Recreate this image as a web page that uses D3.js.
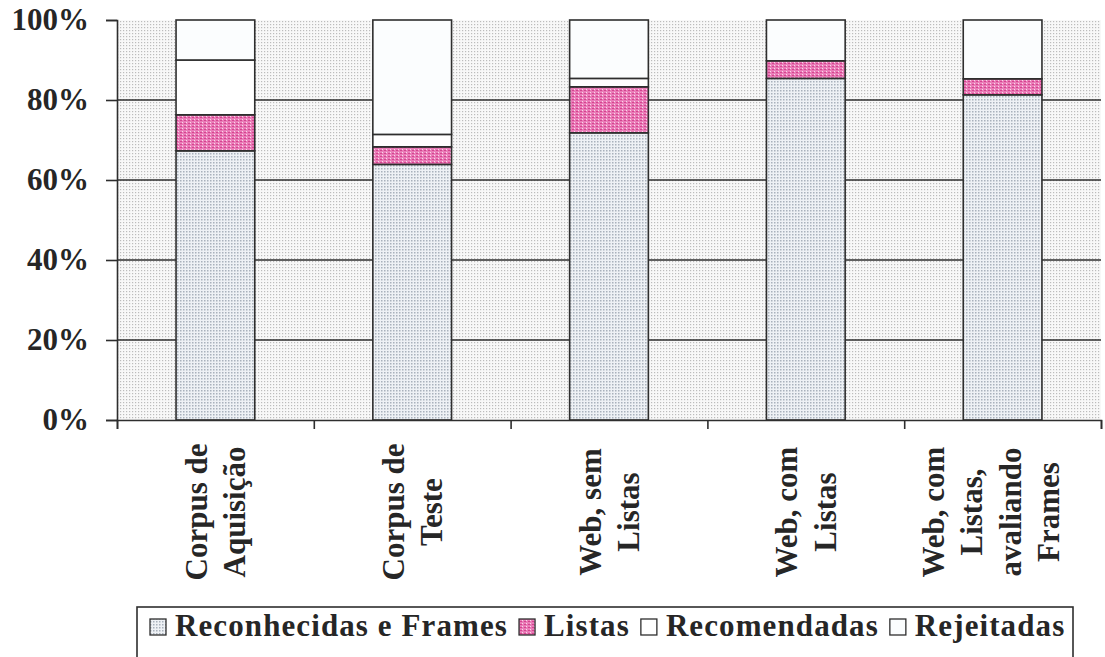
<!DOCTYPE html>
<html>
<head>
<meta charset="utf-8">
<script src="https://cdn.jsdelivr.net/npm/d3@7"></script>
<style>
  html, body { margin: 0; padding: 0; background: #fff; }
  svg { display: block; }
  text { font-family: "Liberation Serif", "Times New Roman", serif; font-weight: bold; fill: #262626; }
</style>
</head>
<body>
<svg id="chart" width="1105" height="657"></svg>
<script>
// Category labels (one line per array entry)
const categories = [
  ["Corpus de", "Aquisição"],
  ["Corpus de", "Teste"],
  ["Web, sem", "Listas"],
  ["Web, com", "Listas"],
  ["Web, com", "Listas,", "avaliando", "Frames"]
];
// Stacked shares, percent of each column
const reconhecidas = [67.3, 63.9, 71.8, 85.4, 81.3];
const listas       = [9.0, 4.4, 11.5, 4.4, 4.0];
const recomendadas = [13.7, 3.1, 2.1, 0.0, 0.0];
const rejeitadas   = [10.0, 28.6, 14.6, 10.2, 14.7];
const seriesNames  = ["Reconhecidas e Frames", "Listas", "Recomendadas", "Rejeitadas"];
const yTicks = [0, 20, 40, 60, 80, 100];

const seriesValues = [reconhecidas, listas, recomendadas, rejeitadas];
const keys = categories.map(c => c.join(" "));
const rows = keys.map((k, i) => {
  const r = { key: k };
  seriesNames.forEach((s, j) => r[s] = seriesValues[j][i]);
  return r;
});
const stacked = d3.stack().keys(seriesNames)(rows);

const svg = d3.select("#chart");
const ink = "#2e2e2e";

// Fill patterns
const defs = svg.append("defs");
const bgPat = defs.append("pattern").attr("id", "pBg")
  .attr("width", 3).attr("height", 3).attr("patternUnits", "userSpaceOnUse");
bgPat.append("rect").attr("width", 3).attr("height", 3).attr("fill", "#f8f8f8");
bgPat.append("rect").attr("width", 1.2).attr("height", 1.2).attr("fill", "#bcbcbc");

const recPat = defs.append("pattern").attr("id", "pRec")
  .attr("width", 3).attr("height", 3).attr("patternUnits", "userSpaceOnUse");
recPat.append("rect").attr("width", 3).attr("height", 3).attr("fill", "#eef1f5");
recPat.append("rect").attr("width", 1.5).attr("height", 1.5).attr("fill", "#a9b1bc");

const lisPat = defs.append("pattern").attr("id", "pLis")
  .attr("width", 4).attr("height", 3).attr("patternUnits", "userSpaceOnUse");
lisPat.append("rect").attr("width", 4).attr("height", 3).attr("fill", "#ea7cb8");
lisPat.append("rect").attr("x", 0).attr("y", 0).attr("width", 2).attr("height", 1).attr("fill", "#d4448e");
lisPat.append("rect").attr("x", 2).attr("y", 2).attr("width", 1).attr("height", 1).attr("fill", "#f7dbe9");

const fills = {
  "Reconhecidas e Frames": "url(#pRec)",
  "Listas": "url(#pLis)",
  "Recomendadas": "#ffffff",
  "Rejeitadas": "#fbfdfe"
};

// Scales
const plotL = 117, plotR = 1101, plotT = 20, plotB = 420;
const x = d3.scaleBand().domain(keys).range([plotL, plotR]).paddingInner(0.6).paddingOuter(0.3);
const y = d3.scaleLinear().domain([0, 100]).range([plotB, plotT]);
const xEdges = d3.scaleLinear().domain([0, keys.length]).range([plotL, plotR]);

// Plot background
svg.append("rect").attr("x", plotL).attr("y", plotT)
  .attr("width", plotR - plotL).attr("height", plotB - plotT)
  .attr("fill", "url(#pBg)");

// Horizontal gridlines
svg.append("g").selectAll("line")
  .data(yTicks.filter(t => t > 0 && t < 100))
  .join("line")
  .attr("x1", plotL).attr("x2", plotR)
  .attr("y1", d => y(d)).attr("y2", d => y(d))
  .attr("stroke", ink).attr("stroke-width", 1.6);

// Stacked bars
svg.append("g").selectAll("g")
  .data(stacked)
  .join("g")
  .attr("fill", d => fills[d.key])
  .selectAll("rect")
  .data(d => d)
  .join("rect")
  .attr("x", d => x(d.data.key))
  .attr("width", x.bandwidth())
  .attr("y", d => y(d[1]))
  .attr("height", d => y(d[0]) - y(d[1]))
  .attr("stroke", ink).attr("stroke-width", 1.6);

// Y axis
const yAxis = svg.append("g").attr("transform", `translate(${plotL},0)`)
  .call(d3.axisLeft(y).tickValues(yTicks).tickSize(11).tickPadding(17).tickFormat(d => d + "%"));
yAxis.select(".domain").attr("stroke", ink).attr("stroke-width", 1.6);
yAxis.selectAll(".tick line").attr("stroke", ink).attr("stroke-width", 1.6);
yAxis.selectAll(".tick text").style("font-size", "31px")
  .style("font-family", "'Liberation Serif', serif").style("font-weight", "bold").attr("fill", "#262626");

// X axis with ticks on category boundaries
const xAxis = svg.append("g").attr("transform", `translate(0,${plotB})`)
  .call(d3.axisBottom(xEdges).tickValues(d3.range(keys.length + 1)).tickSize(9).tickFormat(""));
xAxis.select(".domain").attr("stroke", ink).attr("stroke-width", 1.6);
xAxis.selectAll(".tick line").attr("stroke", ink).attr("stroke-width", 1.6);

// Rotated multi-line category labels
const lineGap = 38.5, labelMid = 512;
const lbl = svg.append("g").selectAll("g")
  .data(categories)
  .join("g")
  .attr("transform", (d, i) => `translate(${x(keys[i]) + x.bandwidth() / 2 - (d.length > 2 ? 12 : 0)},${labelMid}) rotate(-90)`);
lbl.selectAll("text")
  .data(d => d.map((t, j) => ({ t, j, n: d.length })))
  .join("text")
  .attr("text-anchor", "middle")
  .attr("x", 0)
  .attr("y", d => (d.j - (d.n - 1) / 2) * lineGap)
  .attr("dy", "0.35em")
  .style("font-size", "31px")
  .text(d => d.t);

// Legend
const legX = 137, legY = 607, legW = 936;
svg.append("rect").attr("x", legX).attr("y", legY)
  .attr("width", legW).attr("height", 70)
  .attr("fill", "#fff").attr("stroke", ink).attr("stroke-width", 1.6);
const legG = svg.append("g");
let cx = 150;
const baseY = 636;
seriesNames.forEach(name => {
  legG.append("rect").attr("x", cx).attr("y", baseY - 17)
    .attr("width", 16).attr("height", 16)
    .attr("fill", fills[name]).attr("stroke", ink).attr("stroke-width", 1.3);
  const t = legG.append("text").attr("x", cx + 25).attr("y", baseY)
    .style("font-size", "31px").style("letter-spacing", "1.1px").text(name);
  cx += 25 + t.node().getComputedTextLength() + 11;
});
</script>
</body>
</html>
